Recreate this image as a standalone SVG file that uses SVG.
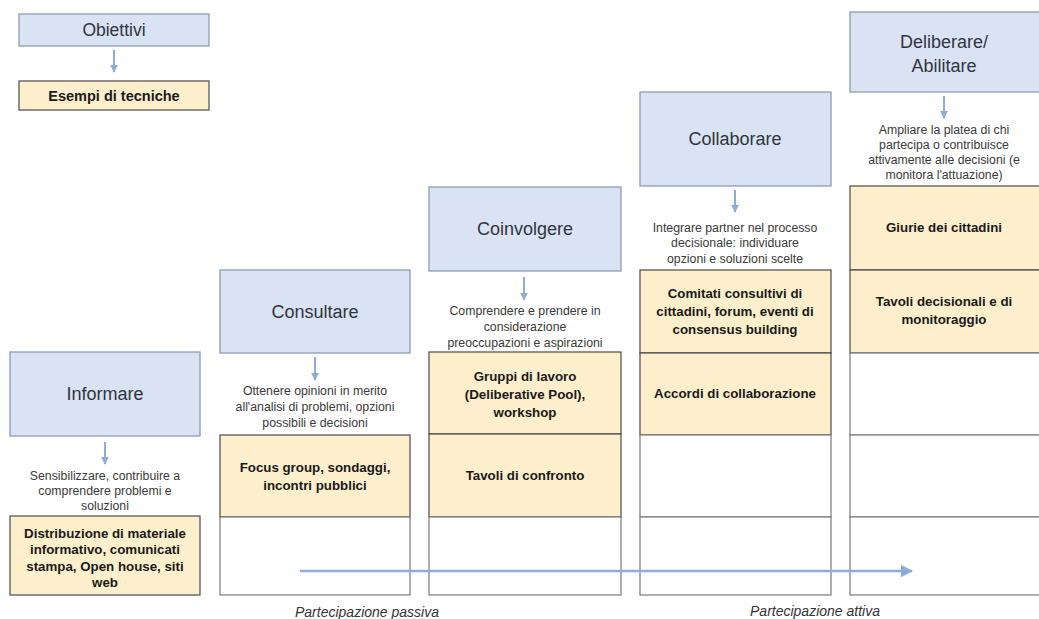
<svg xmlns="http://www.w3.org/2000/svg" width="1039" height="619" viewBox="0 0 1039 619">
<defs>
<style>
.bg{fill:#ffffff}
.blue{fill:#dae3f3;stroke:#8c9db5;stroke-width:1.3}
.yel{fill:#fdefcc;stroke:#4a4a4a;stroke-width:1.2}
.wht{fill:#ffffff;stroke:#7a7a7a;stroke-width:1.2}
.title{font-family:"Liberation Sans",Arial,sans-serif;font-size:18px;fill:#2f3540;text-anchor:middle}
.desc{font-family:"Liberation Sans",Arial,sans-serif;font-size:12.3px;fill:#3a3a3a;text-anchor:middle}
.tech{font-family:"Liberation Sans",Arial,sans-serif;font-size:13.3px;font-weight:bold;fill:#1a1a1a;text-anchor:middle}
.axis{font-family:"Liberation Sans",Arial,sans-serif;font-size:14px;font-style:italic;fill:#333333;text-anchor:middle}
.dn{stroke:#8faadc;stroke-width:2;fill:none}
</style>
<marker id="ah" viewBox="0 0 10 10" refX="9" refY="5" markerWidth="4" markerHeight="4" orient="auto" markerUnits="strokeWidth">
<path d="M0,0 L10,5 L0,10 Z" fill="#8faadc"/>
</marker>
<marker id="ah2" viewBox="0 0 10 10" refX="9" refY="5" markerWidth="5" markerHeight="5" orient="auto" markerUnits="strokeWidth">
<path d="M0,0 L10,5 L0,10 Z" fill="#8faadc"/>
</marker>
</defs>
<rect class="bg" x="0" y="0" width="1039" height="619"/>

<g id="legend">
<rect class="blue" x="19" y="14" width="190" height="32"/>
<text class="title" x="114" y="36" style="font-size:17.5px">Obiettivi</text>
<rect class="yel" x="19" y="81" width="190" height="29"/>
<text class="tech" x="114" y="101" style="font-size:14.5px">Esempi di tecniche</text>
</g>

<g id="informare">
<rect class="blue" x="10" y="352" width="190" height="84"/>
<text class="title" x="105" y="400">Informare</text>
<text class="desc" x="105" y="480">Sensibilizzare, contribuire a</text>
<text class="desc" x="105" y="495">comprendere problemi e</text>
<text class="desc" x="105" y="510">soluzioni</text>
<rect class="yel" x="10" y="516" width="190" height="79"/>
<text class="tech" x="105" y="538">Distribuzione di materiale</text>
<text class="tech" x="105" y="554">informativo, comunicati</text>
<text class="tech" x="105" y="571">stampa,  Open house, siti</text>
<text class="tech" x="105" y="587">web</text>
</g>

<g id="consultare">
<rect class="blue" x="220" y="270" width="190" height="83"/>
<text class="title" x="315" y="318">Consultare</text>
<text class="desc" x="315" y="395">Ottenere opinioni in merito</text>
<text class="desc" x="315" y="411">all'analisi di problemi, opzioni</text>
<text class="desc" x="315" y="427">possibili e decisioni</text>
<rect class="yel" x="220" y="435" width="190" height="82"/>
<text class="tech" x="315" y="472">Focus group, sondaggi,</text>
<text class="tech" x="315" y="490">incontri pubblici</text>
<rect class="wht" x="220" y="517" width="190" height="78"/>
</g>

<g id="coinvolgere">
<rect class="blue" x="429" y="187" width="192" height="84"/>
<text class="title" x="525" y="235">Coinvolgere</text>
<text class="desc" x="525" y="315">Comprendere e prendere in</text>
<text class="desc" x="525" y="331">considerazione</text>
<text class="desc" x="525" y="347">preoccupazioni e aspirazioni</text>
<rect class="yel" x="429" y="352" width="192" height="82"/>
<text class="tech" x="525" y="381">Gruppi di lavoro</text>
<text class="tech" x="525" y="399">(Deliberative Pool),</text>
<text class="tech" x="525" y="417">workshop</text>
<rect class="yel" x="429" y="434" width="192" height="83"/>
<text class="tech" x="525" y="480">Tavoli di confronto</text>
<rect class="wht" x="429" y="517" width="192" height="78"/>
</g>

<g id="collaborare">
<rect class="blue" x="640" y="92" width="191" height="94"/>
<text class="title" x="735" y="145">Collaborare</text>
<text class="desc" x="735" y="232">Integrare partner nel processo</text>
<text class="desc" x="735" y="247">decisionale: individuare</text>
<text class="desc" x="735" y="263">opzioni e soluzioni scelte</text>
<rect class="yel" x="640" y="270" width="191" height="83"/>
<text class="tech" x="735" y="298">Comitati consultivi di</text>
<text class="tech" x="735" y="316">cittadini,  forum, eventi di</text>
<text class="tech" x="735" y="334">consensus building</text>
<rect class="yel" x="640" y="353" width="191" height="82"/>
<text class="tech" x="735" y="398">Accordi di collaborazione</text>
<rect class="wht" x="640" y="435" width="191" height="82"/>
<rect class="wht" x="640" y="517" width="191" height="78"/>
</g>

<g id="deliberare">
<rect class="blue" x="850" y="12" width="192" height="80"/>
<text class="title" x="944" y="48">Deliberare/</text>
<text class="title" x="944" y="72">Abilitare</text>
<text class="desc" x="944" y="134">Ampliare la platea di chi</text>
<text class="desc" x="944" y="149">partecipa o contribuisce</text>
<text class="desc" x="944" y="164">attivamente alle decisioni (e</text>
<text class="desc" x="944" y="179">monitora l'attuazione)</text>
<rect class="yel" x="850" y="186" width="192" height="84"/>
<text class="tech" x="944" y="232">Giurie dei cittadini</text>
<rect class="yel" x="850" y="270" width="192" height="83"/>
<text class="tech" x="944" y="306">Tavoli decisionali  e di</text>
<text class="tech" x="944" y="324">monitoraggio</text>
<rect class="wht" x="850" y="353" width="192" height="82"/>
<rect class="wht" x="850" y="435" width="192" height="82"/>
<rect class="wht" x="850" y="517" width="192" height="78"/>
</g>

<g id="connectors">
<line class="dn" x1="114" y1="50" x2="114" y2="72" marker-end="url(#ah)"/>
<line class="dn" x1="105" y1="442" x2="105" y2="464" marker-end="url(#ah)"/>
<line class="dn" x1="315" y1="357" x2="315" y2="380" marker-end="url(#ah)"/>
<line class="dn" x1="524" y1="277" x2="524" y2="300" marker-end="url(#ah)"/>
<line class="dn" x1="735" y1="190" x2="735" y2="212" marker-end="url(#ah)"/>
<line class="dn" x1="944" y1="96" x2="944" y2="118" marker-end="url(#ah)"/>
<line x1="300" y1="571" x2="912" y2="571" stroke="#8faadc" stroke-width="2.5" marker-end="url(#ah2)"/>
</g>

<g id="axis-labels">
<text class="axis" x="367" y="617">Partecipazione passiva</text>
<text class="axis" x="815" y="616">Partecipazione attiva</text>
</g>
</svg>
